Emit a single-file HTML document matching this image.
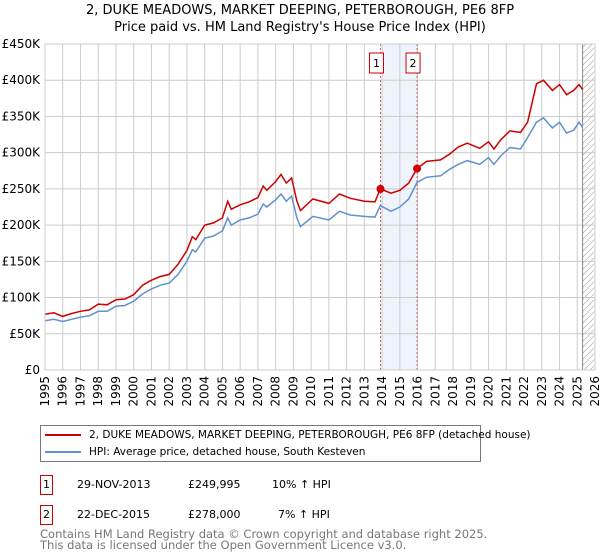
<!DOCTYPE html>
<html><head><meta charset="utf-8"><style>
body{margin:0;width:600px;height:560px;background:#fff;font-family:"DejaVu Sans","Liberation Sans",sans-serif;overflow:hidden;position:relative}
.t{position:absolute;white-space:nowrap;color:#000}
</style></head><body>
<div class="t" style="left:0;width:600px;text-align:center;top:2px;font-size:13px;line-height:17px">2, DUKE MEADOWS, MARKET DEEPING, PETERBOROUGH, PE6 8FP<br>Price paid vs. HM Land Registry's House Price Index (HPI)</div>
<svg id="c" width="600" height="420" style="position:absolute;left:0;top:0" font-family="DejaVu Sans, Liberation Sans, sans-serif"></svg>
<div style="position:absolute;left:40px;top:425px;width:439px;height:35px;border:1px solid #777;font-size:10.5px">
<div style="position:absolute;left:4px;top:3px;white-space:nowrap"><span style="display:inline-block;width:36px;height:2px;background:#cc0000;vertical-align:middle;margin-right:8px"></span>2, DUKE MEADOWS, MARKET DEEPING, PETERBOROUGH, PE6 8FP (detached house)</div>
<div style="position:absolute;left:4px;top:20px;white-space:nowrap"><span style="display:inline-block;width:36px;height:2px;background:#6090d0;vertical-align:middle;margin-right:8px"></span>HPI: Average price, detached house, South Kesteven</div>
</div>
<div style="position:absolute;left:0;top:475px;font-size:11px">
<div class="t" style="left:40px;top:0;width:11px;height:18px;border:1px solid #cc0000;text-align:center;line-height:18px">1</div>
<div class="t" style="left:77px;top:3px">29-NOV-2013</div><div class="t" style="left:188px;top:3px">£249,995</div><div class="t" style="left:272px;top:3px">10% ↑ HPI</div></div>
<div style="position:absolute;left:0;top:505px;font-size:11px">
<div class="t" style="left:40px;top:0;width:11px;height:18px;border:1px solid #cc0000;text-align:center;line-height:18px">2</div>
<div class="t" style="left:77px;top:3px">22-DEC-2015</div><div class="t" style="left:188px;top:3px">£278,000</div><div class="t" style="left:278px;top:3px">7% ↑ HPI</div></div>
<div class="t" style="left:40px;top:529px;font-size:11.5px;line-height:11px;color:#777">Contains HM Land Registry data © Crown copyright and database right 2025.<br>This data is licensed under the Open Government Licence v3.0.</div>
<script>
const years=[1995,1995.5,1996,1996.5,1997,1997.5,1998,1998.5,1999,1999.5,2000,2000.5,2001,2001.5,2002,2002.5,2003,2003.3,2003.5,2004,2004.5,2005,2005.3,2005.5,2006,2006.5,2007,2007.3,2007.5,2008,2008.3,2008.6,2008.9,2009.2,2009.4,2010.1,2011,2011.6,2012.2,2013,2013.6,2013.9,2014.5,2015,2015.5,2015.97,2016.5,2017.3,2017.8,2018.3,2018.8,2019.5,2020,2020.3,2020.7,2021.2,2021.8,2022.2,2022.7,2023.1,2023.6,2024,2024.4,2024.8,2025.1,2025.3];
const hpi=[68,70,67,70,73,75,81,81,88,89,95,105,112,117,120,132,150,166,163,182,185,192,210,200,207,210,215,229,225,235,243,233,240,210,198,212,207,219,214,212,211,227,219,225,236,259,266,268,277,284,289,284,293,284,296,307,305,321,342,348,334,342,327,331,342,335];
const price=[77,79,74,78,81,83,91,90,97,98,104,117,124,129,132,146,165,184,180,200,203,210,233,222,228,232,238,254,248,260,270,258,265,233,220,236,230,243,237,233,232,250,244,248,258,278,288,290,298,308,313,306,315,305,318,330,328,342,395,400,386,394,380,386,394,387];
const saleYears=[2013.91,2015.97];
const saleValues=[249.995,278];
const yTicks=[0,50,100,150,200,250,300,350,400,450];
const xTicks=[1995,1996,1997,1998,1999,2000,2001,2002,2003,2004,2005,2006,2007,2008,2009,2010,2011,2012,2013,2014,2015,2016,2017,2018,2019,2020,2021,2022,2023,2024,2025,2026];
const X0=45,X1=595,Y0=370,Y1=44;
const xs=y=>X0+(y-1995)/(2026-1995)*(X1-X0);
const ys=v=>Y0-v/450*(Y0-Y1);
const svg=document.getElementById('c');const NS='http://www.w3.org/2000/svg';
function mk(t,a,p){const e=document.createElementNS(NS,t);for(const k in a)e.setAttribute(k,a[k]);(p||svg).appendChild(e);return e;}
const defs=mk('defs',{});
const pat=mk('pattern',{id:'h',width:6,height:6,patternUnits:'userSpaceOnUse'},defs);
mk('path',{d:'M0,6 L6,0',stroke:'#bbb','stroke-width':0.8},pat);
let r=mk('rect',{x:xs(2013.91),y:Y1,width:xs(2015.97)-xs(2013.91),height:Y0-Y1,fill:'#eef3fc'});

r=mk('rect',{x:xs(2025.3),y:Y1,width:X1-xs(2025.3),height:Y0-Y1,fill:'url(#h)'});

yTicks.forEach(v=>{let l=mk('line',{x1:X0,x2:X1,y1:ys(v),y2:ys(v),stroke:'#ccc'});
let t=mk('text',{x:X0-5,y:ys(v)+4,'text-anchor':'end','font-size':12});t.textContent=v==0?'£0':'£'+v+'K';});
xTicks.forEach(v=>{let l=mk('line',{x1:xs(v),x2:xs(v),y1:Y1,y2:Y0,stroke:'#ccc'});
let t=mk('text',{transform:`translate(${xs(v)+4},${Y0+6}) rotate(-90)`,'text-anchor':'end','font-size':12});t.textContent=v;});
mk('line',{x1:xs(2025.3),x2:xs(2025.3),y1:Y1,y2:Y0,stroke:'#888'});
saleYears.forEach((y,i)=>{let l=mk('line',{x1:xs(y),x2:xs(y),y1:Y1,y2:Y0,stroke:'#e06060','stroke-dasharray':'2,2'});
let g=mk('g',{});
mk('rect',{x:xs(y)-11,y:53,width:14,height:20,fill:'#fff',stroke:'#cc0000'},g);
let t=mk('text',{x:xs(y)-4,y:67,'text-anchor':'middle','font-size':11},g);t.textContent=i+1;});
const pth=a=>a.map((v,i)=>(i?'L':'M')+xs(years[i]).toFixed(1)+','+ys(v).toFixed(1)).join('');
let p=mk('path',{d:pth(hpi),fill:'none',stroke:'#6090d0','stroke-width':1.5});
p=mk('path',{d:pth(price),fill:'none',stroke:'#cc0000','stroke-width':1.5});
saleYears.forEach((y,i)=>{let c=mk('circle',{cx:xs(y),cy:ys(saleValues[i]),r:4,fill:'#cc0000'});});
mk('rect',{x:X0,y:Y1,width:X1-X0,height:Y0-Y1,fill:'none',stroke:'#ccc'});
</script>
</body></html>
